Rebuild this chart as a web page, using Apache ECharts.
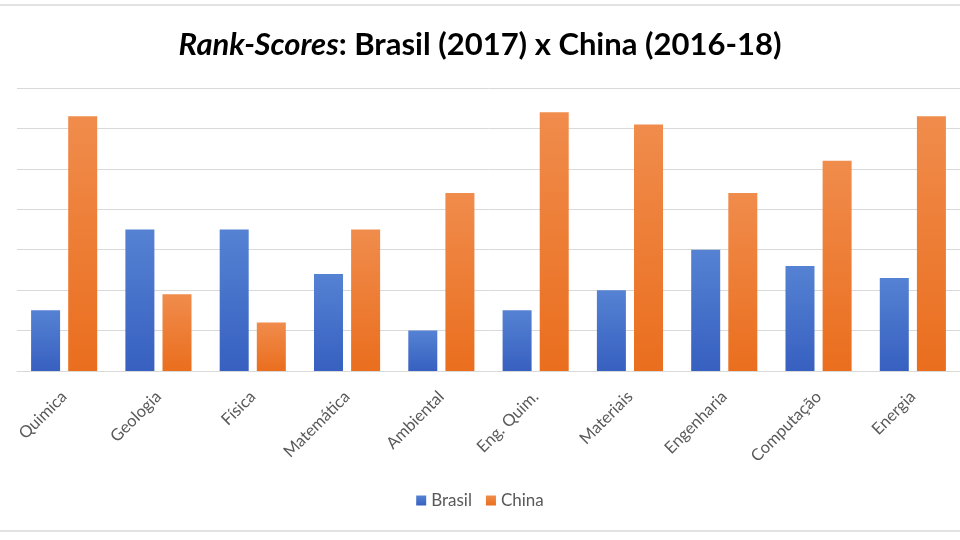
<!DOCTYPE html>
<html>
<head>
<meta charset="utf-8">
<script src="https://cdn.jsdelivr.net/npm/echarts@6/dist/echarts.min.js"></script>
<style>
  html, body { margin: 0; padding: 0; background: #fff; }
  #chart { width: 960px; height: 540px; }
</style>
</head>
<body>
<div id="chart"></div>
<script>
var categories = ['Quimica', 'Geologia', 'Física', 'Matemática', 'Ambiental', 'Eng. Quim.', 'Materiais', 'Engenharia', 'Computação', 'Energia'];
var brasil = [1.5, 3.5, 3.5, 2.4, 1.0, 1.5, 2.0, 3.0, 2.6, 2.3];
var china = [6.3, 1.9, 1.2, 3.5, 4.4, 6.4, 6.1, 4.4, 5.2, 6.3];
var yTicks = [0, 1, 2, 3, 4, 5, 6, 7];

var chart = echarts.init(document.getElementById('chart'));

function grad(top, bottom) {
    return new echarts.graphic.LinearGradient(0, 0, 0, 1, [
        { offset: 0, color: top },
        { offset: 1, color: bottom }
    ]);
}

var option = {
    backgroundColor: '#fff',
    title: {
        text: '{it|Rank-Scores}: Brasil (2017) x China (2016-18)',
        left: 'center',
        top: 24,
        textStyle: {
            fontFamily: 'Lato',
            fontSize: 31,
            fontWeight: 'bold',
            color: '#000',
            rich: {
                it: { fontFamily: 'Lato', fontSize: 31, fontWeight: 'bold', fontStyle: 'italic', color: '#000' }
            }
        }
    },
    legend: {
        data: ['Brasil', 'China'],
        bottom: 26,
        left: 'center',
        itemWidth: 10,
        itemHeight: 10,
        itemGap: 14,
        icon: 'rect',
        textStyle: { fontFamily: 'Lato', fontSize: 17, color: '#595959', padding: [0, 0, 0, 0] }
    },
    grid: {
        left: 17,
        top: 88,
        width: 950,
        height: 283
    },
    xAxis: {
        type: 'category',
        data: categories,
        axisLine: { lineStyle: { color: '#d9d9d9', width: 1 } },
        axisTick: { show: false },
        axisLabel: {
            rotate: 45,
            margin: 23,
            fontFamily: 'Lato',
            fontSize: 16.5,
            color: '#595959',
            interval: 0
        }
    },
    yAxis: {
        type: 'value',
        min: yTicks[0],
        max: yTicks[yTicks.length - 1],
        interval: 1,
        axisLabel: { show: false },
        axisLine: { show: false },
        axisTick: { show: false },
        splitLine: { lineStyle: { color: '#d9d9d9', width: 1 } }
    },
    series: [
        {
            name: 'Brasil',
            type: 'bar',
            data: brasil,
            barWidth: 29,
            barGap: '28%',
            itemStyle: {
                color: grad('#5582d3', '#3760c0'),
                shadowColor: 'rgba(0,0,0,0.18)',
                shadowBlur: 3
            }
        },
        {
            name: 'China',
            type: 'bar',
            data: china,
            barWidth: 29,
            barGap: '28%',
            itemStyle: {
                color: grad('#f08c4c', '#ea6e1e'),
                shadowColor: 'rgba(0,0,0,0.18)',
                shadowBlur: 3
            }
        }
    ],
    color: ['#4472c4', '#ed7d31'],
    graphic: [
        {
            type: 'rect',
            shape: { x: -5, y: 5, width: 970, height: 526 },
            style: { fill: 'none', stroke: '#d9d9d9', lineWidth: 1.5 },
            silent: true
        }
    ]
};

chart.setOption(option);
</script>
</body>
</html>
